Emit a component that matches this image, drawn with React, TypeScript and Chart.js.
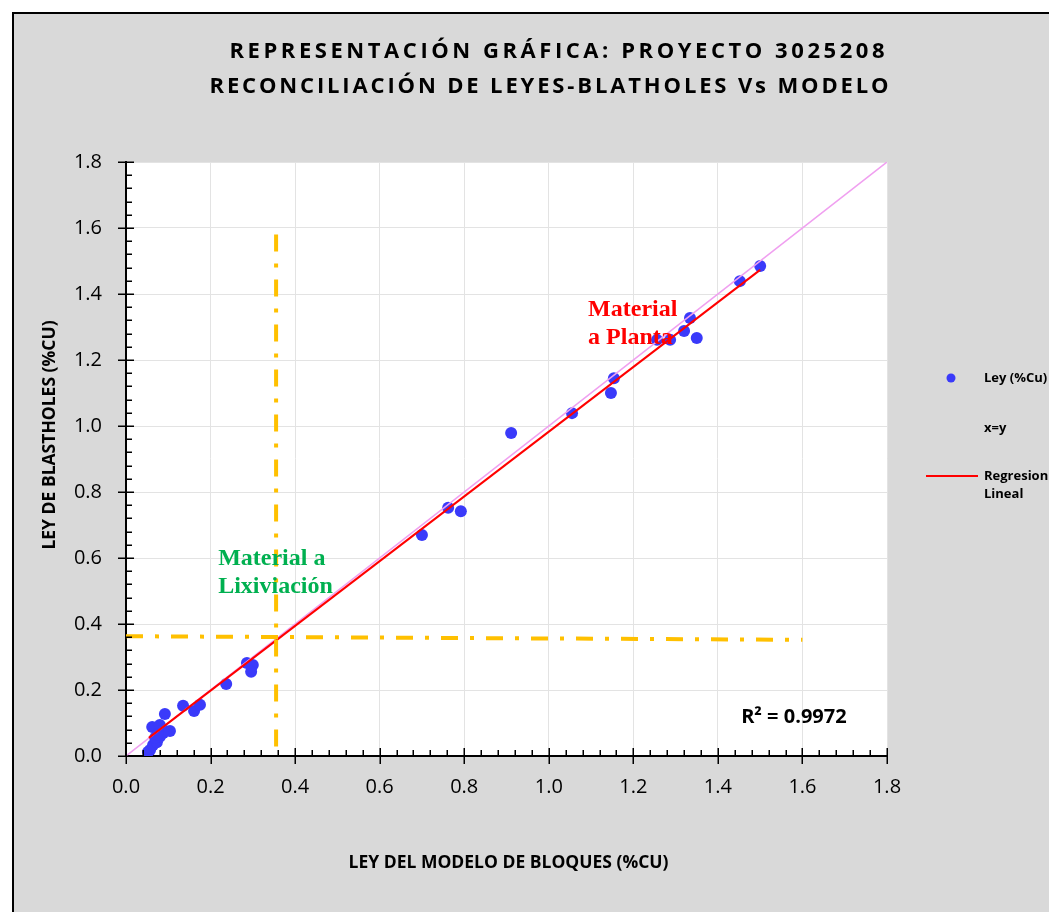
import React, { useEffect, useRef } from "react";
import { Chart, registerables } from "chart.js";

Chart.register(...registerables);

// ---- data ----
const modelX = [
  1.5, 1.452, 1.334, 1.32, 1.35, 1.287, 1.256, 1.154, 1.147, 1.055, 0.911, 0.762, 0.792, 0.7,
  0.286, 0.3, 0.296, 0.237, 0.135, 0.161, 0.175, 0.092, 0.104, 0.062, 0.08, 0.088,
  0.057, 0.052, 0.064, 0.073, 0.08, 0.088, 0.069, 0.075,
];
const blastY = [
  1.485, 1.439, 1.327, 1.288, 1.267, 1.261, 1.261, 1.145, 1.1, 1.039, 0.979, 0.752, 0.742, 0.67,
  0.282, 0.276, 0.255, 0.218, 0.152, 0.136, 0.155, 0.127, 0.076, 0.088, 0.094, 0.079,
  0.018, 0.012, 0.033, 0.042, 0.058, 0.07, 0.055, 0.065,
];
const identityX = [0, 1.8];
const identityY = [0, 1.8];
const regressionX = [0.054, 1.5];
const regressionY = [0.055, 1.473];
const cutVerticalX = [0.355, 0.355];
const cutVerticalY = [1.58, 0];
const cutHorizontalX = [0, 1.6];
const cutHorizontalY = [0.363, 0.352];

const titleLines = [
  "REPRESENTACIÓN GRÁFICA: PROYECTO 3025208",
  "RECONCILIACIÓN DE LEYES-BLATHOLES Vs MODELO",
];
const xAxisTitle = "LEY DEL MODELO DE BLOQUES (%CU)";
const yAxisTitle = "LEY DE BLASTHOLES (%CU)";
const legendLabels = ["Ley (%Cu)", "x=y", "Regresion", "Lineal"];
const r2Label = "R² = 0.9972";
const noteTexts = ["Material a", "Lixiviación", "Material", "a Planta"];
const noteX = [0.218, 0.218, 1.093, 1.093];
const noteY = [0.597, 0.512, 1.352, 1.267];
const r2X = 1.455;
const r2Y = 0.118;

const BLUE = "#3a3afa";
const PINK = "#f0a0f0";
const RED = "#ff0000";
const ORANGE = "#ffc000";
const GREEN = "#00b050";

const toPts = (xs: number[], ys: number[]) => xs.map((x, i) => ({ x, y: ys[i] }));

const decor = {
  id: "decor",
  beforeDraw(chart: any) {
    const { ctx, width, height, chartArea: a } = chart;
    ctx.save();
    ctx.fillStyle = "#d9d9d9";
    ctx.fillRect(0, 0, width, height);
    ctx.fillStyle = "#ffffff";
    ctx.fillRect(a.left, a.top, a.right - a.left, a.bottom - a.top);
    ctx.strokeStyle = "#000";
    ctx.lineWidth = 2;
    ctx.beginPath();
    ctx.moveTo(1, height);
    ctx.lineTo(1, 1);
    ctx.lineTo(width, 1);
    ctx.stroke();
    ctx.restore();
  },
  afterDatasetsDraw(chart: any) {
    const { ctx, scales } = chart;
    const xs = scales.x;
    const ys = scales.y;
    ctx.save();
    ctx.textBaseline = "middle";
    ctx.textAlign = "left";
    ctx.font = 'bold 24px "Liberation Serif"';
    noteTexts.forEach((t, i) => {
      ctx.fillStyle = i < 2 ? GREEN : RED;
      ctx.fillText(t, xs.getPixelForValue(noteX[i]), ys.getPixelForValue(noteY[i]));
    });
    ctx.fillStyle = "#000";
    ctx.font = 'bold 20px "Open Sans"';
    ctx.fillText(r2Label, xs.getPixelForValue(r2X), ys.getPixelForValue(r2Y));
    ctx.restore();
  },
  afterDraw(chart: any) {
    const { ctx, scales, chartArea: a } = chart;
    const xs = scales.x;
    const ys = scales.y;
    ctx.save();
    // tick marks
    ctx.strokeStyle = "#000";
    ctx.lineWidth = 1.5;
    ctx.beginPath();
    for (let i = 0; i <= 45; i++) {
      const v = i * 0.04;
      const px = Math.round(xs.getPixelForValue(v)) + 0.25;
      const py = Math.round(ys.getPixelForValue(v)) + 0.25;
      if (i % 5 === 0) {
        ctx.moveTo(px, a.bottom - 8);
        ctx.lineTo(px, a.bottom + 8);
        ctx.moveTo(a.left - 8, py);
        ctx.lineTo(a.left + 8, py);
      } else {
        ctx.moveTo(px, a.bottom - 6);
        ctx.lineTo(px, a.bottom);
        ctx.moveTo(a.left, py);
        ctx.lineTo(a.left + 6, py);
      }
    }
    ctx.stroke();

    // title with letter spacing
    ctx.fillStyle = "#000";
    ctx.font = 'bold 22px "Open Sans"';
    ctx.textBaseline = "middle";
    ctx.textAlign = "left";
    const targets = [
      { w: 655, cx: 545, cy: 40 },
      { w: 679, cx: 537, cy: 75 },
    ];
    titleLines.forEach((line, li) => {
      const chars = Array.from(line);
      const widths = chars.map((c) => ctx.measureText(c).width);
      const total = widths.reduce((s, w) => s + w, 0);
      const sp = (targets[li].w - total) / (chars.length - 1);
      let x = targets[li].cx - targets[li].w / 2;
      chars.forEach((c, i) => {
        ctx.fillText(c, x, targets[li].cy);
        x += widths[i] + sp;
      });
    });

    // axis titles
    ctx.font = 'bold 17.5px "Open Sans"';
    ctx.textAlign = "center";
    ctx.fillText(xAxisTitle, (a.left + a.right) / 2 + 2, 851);
    ctx.save();
    ctx.translate(38, 423);
    ctx.rotate(-Math.PI / 2);
    ctx.fillText(yAxisTitle, 0, 0);
    ctx.restore();

    // legend
    ctx.textAlign = "left";
    ctx.font = 'bold 13px "Open Sans"';
    ctx.fillStyle = BLUE;
    ctx.beginPath();
    ctx.arc(939, 366, 4.5, 0, Math.PI * 2);
    ctx.fill();
    ctx.fillStyle = "#000";
    ctx.fillText(legendLabels[0], 972, 366);
    ctx.fillText(legendLabels[1], 972, 416);
    ctx.fillText(legendLabels[2], 972, 464);
    ctx.fillText(legendLabels[3], 972, 482);
    ctx.strokeStyle = RED;
    ctx.lineWidth = 2;
    ctx.beginPath();
    ctx.moveTo(914, 464);
    ctx.lineTo(966, 464);
    ctx.stroke();
    ctx.restore();
  },
};

export default function App() {
  const ref = useRef<HTMLCanvasElement>(null);
  useEffect(() => {
    if (!ref.current) return;
    const tickFont = { family: "Open Sans", size: 20 };
    const chart = new Chart(ref.current, {
      type: "scatter",
      data: {
        datasets: [
          {
            label: "Ley (%Cu)",
            data: toPts(modelX, blastY),
            backgroundColor: BLUE,
            borderWidth: 0,
            pointRadius: 6,
            order: 10,
          },
          {
            label: "x=y",
            data: toPts(identityX, identityY),
            showLine: true,
            borderColor: PINK,
            borderWidth: 1.5,
            pointRadius: 0,
            order: 3,
          },
          {
            label: "Regresion Lineal",
            data: toPts(regressionX, regressionY),
            showLine: true,
            borderColor: RED,
            borderWidth: 2,
            pointRadius: 0,
            order: 2,
          },
          {
            label: "corte vertical",
            data: toPts(cutVerticalX, cutVerticalY),
            showLine: true,
            borderColor: ORANGE,
            borderWidth: 4,
            borderDash: [17, 12, 4, 12],
            pointRadius: 0,
            order: 1,
          },
          {
            label: "corte horizontal",
            data: toPts(cutHorizontalX, cutHorizontalY),
            showLine: true,
            borderColor: ORANGE,
            borderWidth: 4,
            borderDash: [17, 12, 4, 12],
            pointRadius: 0,
            order: 1,
          },
        ],
      },
      options: {
        animation: false,
        responsive: false,
        devicePixelRatio: 1,
        layout: { padding: { left: 0, top: 150, right: 170, bottom: 0 } },
        plugins: { legend: { display: false }, tooltip: { enabled: false }, title: { display: false } },
        scales: {
          x: {
            type: "linear",
            min: 0,
            max: 1.8,
            afterFit: (s: any) => {
              s.height = 156;
            },
            ticks: {
              stepSize: 0.2,
              color: "#000",
              font: tickFont,
              padding: 11,
              callback: (v: any) => Number(v).toFixed(1),
            },
            grid: { color: "#e3e3e3", lineWidth: 1, tickLength: 8, tickColor: "rgba(0,0,0,0)" },
            border: { display: true, color: "#000", width: 2 },
          },
          y: {
            type: "linear",
            min: 0,
            max: 1.8,
            afterFit: (s: any) => {
              s.width = 114;
            },
            ticks: {
              stepSize: 0.2,
              color: "#000",
              font: tickFont,
              padding: 16,
              callback: (v: any) => Number(v).toFixed(1),
            },
            grid: { color: "#e3e3e3", lineWidth: 1, tickLength: 8, tickColor: "rgba(0,0,0,0)" },
            border: { display: true, color: "#000", width: 2 },
          },
        },
      },
      plugins: [decor],
    });
    return () => chart.destroy();
  }, []);
  return (
    <div style={{ padding: "4px 0 0 4px" }}>
      <canvas ref={ref} width={1045} height={900} style={{ display: "block" }} />
    </div>
  );
}
